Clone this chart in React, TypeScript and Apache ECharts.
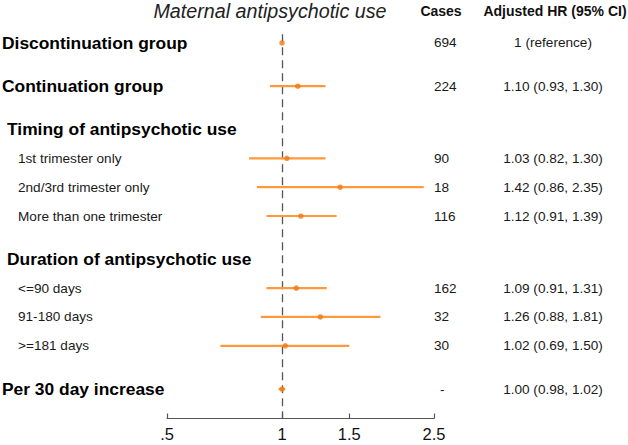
import React, { useEffect, useRef } from "react";
import * as echarts from "echarts";

const labels = [
  "Discontinuation group",
  "Continuation group",
  "Timing of antipsychotic use",
  "1st trimester only",
  "2nd/3rd trimester only",
  "More than one trimester",
  "Duration of antipsychotic use",
  "<=90 days",
  "91-180 days",
  ">=181 days",
  "Per 30 day increase",
];
const rowKinds = ["main", "main", "header", "sub", "sub", "sub", "header", "sub", "sub", "sub", "main"];
const cases = ["694", "224", "", "90", "18", "116", "", "162", "32", "30", "-"];
const hrLabels = [
  "1 (reference)",
  "1.10 (0.93, 1.30)",
  "",
  "1.03 (0.82, 1.30)",
  "1.42 (0.86, 2.35)",
  "1.12 (0.91, 1.39)",
  "",
  "1.09 (0.91, 1.31)",
  "1.26 (0.88, 1.81)",
  "1.02 (0.69, 1.50)",
  "1.00 (0.98, 1.02)",
];
const hr: (number | null)[] = [1, 1.1, null, 1.03, 1.42, 1.12, null, 1.09, 1.26, 1.02, 1.0];
const lower: (number | null)[] = [null, 0.93, null, 0.82, 0.86, 0.91, null, 0.91, 0.88, 0.69, 0.98];
const upper: (number | null)[] = [null, 1.3, null, 1.3, 2.35, 1.39, null, 1.31, 1.81, 1.5, 1.02];
const xTicks = [0.5, 1, 1.5, 2.5];
const xTickLabels = [".5", "1", "1.5", "2.5"];

const FONT = "'Liberation Sans', Arial, sans-serif";

export default function App() {
  const ref = useRef<HTMLDivElement>(null);
  useEffect(() => {
    if (!ref.current) return;
    const chart = echarts.init(ref.current, undefined, { renderer: "svg" });

    // row positions in half-line units
    const pos: number[] = [];
    let p = 0;
    rowKinds.forEach((k, i) => {
      if (i > 0) p += k === "sub" ? 2 : 3;
      pos.push(p);
    });

    const ciData = rowKinds
      .map((_, i) => (lower[i] != null && upper[i] != null ? [lower[i], upper[i], pos[i]] : null))
      .filter((d) => d !== null);
    const pointData = rowKinds
      .map((_, i) => (hr[i] != null ? [hr[i], pos[i]] : null))
      .filter((d) => d !== null);
    const textData = rowKinds.map((_, i) => [1, pos[i], i]);

    const option: any = {
      animation: false,
      backgroundColor: "#ffffff",
      grid: {
        left: 167,
        right: 194,
        top: 34.3,
        bottom: 26.5,
        containLabel: false,
        outerBoundsMode: "none",
      },
      xAxis: {
        type: "log",
        logBase: 10,
        min: 0.5,
        max: 2.5,
        splitLine: { show: false },
        axisLine: { onZero: false, lineStyle: { color: "#555", width: 1.2 } },
        axisTick: {
          inside: true,
          length: 5,
          customValues: xTicks,
          lineStyle: { color: "#555", width: 1.2 },
        },
        axisLabel: {
          customValues: xTicks,
          margin: 7,
          fontSize: 16.5,
          fontFamily: FONT,
          color: "#111",
          formatter: (v: number) => {
            const i = xTicks.findIndex((t) => Math.abs(t - v) < 1e-6);
            return i >= 0 ? xTickLabels[i] : "";
          },
        },
      },
      yAxis: {
        type: "value",
        inverse: true,
        min: -0.6,
        max: 26.04,
        show: false,
      },
      graphic: [
        {
          type: "text",
          x: 270,
          y: 11,
          style: {
            text: "Maternal antipsychotic use",
            fontSize: 19.7,
            fontStyle: "italic",
            fontFamily: FONT,
            fill: "#222",
            align: "center",
            verticalAlign: "middle",
          },
        },
        {
          type: "text",
          x: 441,
          y: 11,
          style: {
            text: "Cases",
            fontSize: 14,
            fontWeight: "bold",
            fontFamily: FONT,
            fill: "#111",
            align: "center",
            verticalAlign: "middle",
          },
        },
        {
          type: "text",
          x: 555,
          y: 11,
          style: {
            text: "Adjusted HR (95% CI)",
            fontSize: 14,
            fontWeight: "bold",
            fontFamily: FONT,
            fill: "#111",
            align: "center",
            verticalAlign: "middle",
          },
        },
      ],
      series: [
        {
          type: "custom",
          name: "ci",
          clip: false,
          silent: true,
          encode: { x: [0, 1], y: 2 },
          data: ciData,
          renderItem: (params: any, api: any) => {
            const p1 = api.coord([api.value(0), api.value(2)]);
            const p2 = api.coord([api.value(1), api.value(2)]);
            return {
              type: "line",
              shape: { x1: p1[0], y1: p1[1], x2: p2[0], y2: p2[1] },
              style: { stroke: "#FF9A3C", lineWidth: 2.2 },
            };
          },
          z: 3,
        },
        {
          type: "scatter",
          name: "hr",
          silent: true,
          symbol: "circle",
          symbolSize: 5.5,
          itemStyle: { color: "#F07A12" },
          data: pointData,
          z: 4,
          markLine: {
            silent: true,
            symbol: "none",
            label: { show: false },
            lineStyle: { color: "#555", width: 1.3, type: [8, 5] },
            data: [{ xAxis: 1 }],
            z: 2,
          },
        },
        {
          type: "custom",
          name: "text",
          clip: false,
          silent: true,
          encode: { x: 0, y: 1 },
          data: textData,
          renderItem: (params: any, api: any) => {
            const i = api.value(2);
            const y = api.coord([1, api.value(1)])[1];
            const kind = rowKinds[i];
            const bold = kind !== "sub";
            const labelX = kind === "main" ? 2 : kind === "header" ? 7 : 18;
            const children: any[] = [
              {
                type: "text",
                x: labelX,
                y,
                style: {
                  text: labels[i],
                  fontSize: bold ? 17.4 : 13.6,
                  fontWeight: bold ? "bold" : "normal",
                  fontFamily: FONT,
                  fill: bold ? "#000" : "#1a1a1a",
                  align: "left",
                  verticalAlign: "middle",
                },
              },
            ];
            if (cases[i]) {
              children.push({
                type: "text",
                x: cases[i] === "-" ? 440 : 434,
                y,
                style: {
                  text: cases[i],
                  fontSize: 13.6,
                  fontFamily: FONT,
                  fill: "#1a1a1a",
                  align: "left",
                  verticalAlign: "middle",
                },
              });
            }
            if (hrLabels[i]) {
              children.push({
                type: "text",
                x: 553,
                y,
                style: {
                  text: hrLabels[i],
                  fontSize: 13.6,
                  fontFamily: FONT,
                  fill: "#1a1a1a",
                  align: "center",
                  verticalAlign: "middle",
                },
              });
            }
            return { type: "group", children };
          },
          z: 5,
        },
      ],
    };
    chart.setOption(option);
    return () => chart.dispose();
  }, []);
  return <div ref={ref} style={{ width: 628, height: 445, position: "absolute", left: 0, top: 0 }} />;
}
